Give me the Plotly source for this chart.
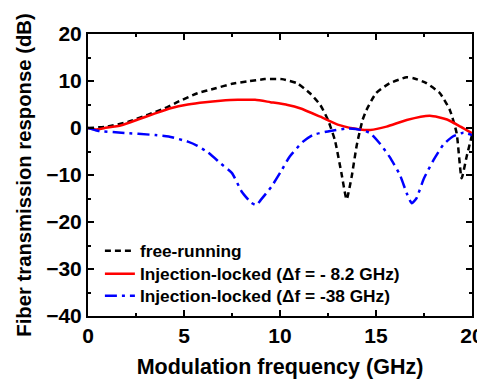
import plotly.graph_objects as go

freq_free = [0, 1, 2.08, 3.1, 4.0, 4.7, 5.7, 6.6, 7.5, 8.3, 9.2, 10.1, 10.9, 11.56, 12.1, 12.5, 12.86, 13.2, 13.47, 13.73, 14.0, 14.3, 14.5, 15.0, 15.7, 16.6, 16.95, 17.6, 18.33, 18.85, 19.2, 19.46, 19.72, 20]
resp_free = [0, 0.3, 1.3, 2.8, 4.2, 5.6, 7.4, 8.4, 9.4, 9.9, 10.4, 10.4, 9.5, 7.4, 4.9, 1.7, -2.6, -9.6, -15.2, -10.4, -3.6, 1.7, 3.8, 7.4, 9.5, 10.8, 10.6, 9.6, 7.4, 3.8, -1.1, -10.7, -6.1, -1.5]

freq_82 = [0, 0.4, 0.87, 1.74, 2.6, 3.5, 4.3, 5.2, 6.1, 6.9, 7.8, 8.7, 9.5, 10.4, 11.04, 12.1, 13.1, 14.17, 14.7, 15.55, 16.6, 17.8, 18.7, 19.4, 20]
resp_82 = [0, -0.3, 0, 0.6, 1.8, 3.1, 4.2, 5.0, 5.5, 5.8, 6.0, 6.0, 5.5, 4.9, 4.2, 2.4, 0.6, -0.3, -0.4, 0.3, 1.7, 2.6, 1.8, 0.3, -1.1]

freq_38 = [0, 0.5, 1.74, 3.5, 4.2, 5.2, 5.7, 6.25, 6.9, 7.5, 8.0, 8.5, 8.77, 9.0, 9.55, 10.1, 10.5, 11.2, 11.7, 12.4, 13.5, 14.2, 14.7, 15.2, 15.7, 16.25, 16.6, 16.86, 17.1, 17.5, 18.0, 18.5, 19.0, 19.55, 20]
resp_38 = [0, -0.6, -1.0, -1.5, -1.8, -2.9, -3.8, -5.2, -7.5, -9.6, -13.5, -15.9, -16.4, -15.3, -12.5, -8.9, -6.1, -2.9, -1.5, -0.8, -0.1, -0.4, -1.1, -3.3, -6.1, -10.0, -13.9, -16.0, -15.0, -10.7, -6.8, -3.6, -1.8, -1.0, -1.5]

names = ["free-running", "Injection-locked (Δf = - 8.2 GHz)", "Injection-locked (Δf = -38 GHz)"]

FONT = "Liberation Sans, Arial, sans-serif"

fig = go.Figure()
fig.add_trace(go.Scatter(x=freq_free, y=resp_free, mode="lines", name=names[0], legend="legend",
                         line=dict(color="black", width=2.5, dash="6px,4px", shape="spline", smoothing=0.5)))
fig.add_trace(go.Scatter(x=freq_82, y=resp_82, mode="lines", name=names[1], legend="legend2",
                         line=dict(color="#ff0000", width=2.5, shape="spline", smoothing=0.6)))
fig.add_trace(go.Scatter(x=freq_38, y=resp_38, mode="lines", name=names[2], legend="legend3",
                         line=dict(color="#0000ff", width=2.5, dash="12px,5px,3px,5px", shape="spline", smoothing=0.5)))

axis_common = dict(showline=True, linecolor="black", linewidth=2, mirror="ticks",
                   ticks="inside", ticklen=6, tickwidth=1.5, tickcolor="black",
                   showgrid=False, zeroline=False, automargin=False,
                   tickfont=dict(family=FONT, size=21, color="black", weight="bold"))

fig.update_xaxes(range=[0, 20], dtick=5, tick0=0,
                 minor=dict(dtick=2.5, ticks="inside", ticklen=3, tickwidth=1.5, tickcolor="black"),
                 title=dict(text="Modulation frequency (GHz)", standoff=13,
                            font=dict(family=FONT, size=21.5, color="black", weight="bold")),
                 **axis_common)
fig.update_yaxes(range=[-40, 20], dtick=10, tick0=0,
                 minor=dict(dtick=5, ticks="inside", ticklen=3, tickwidth=1.5, tickcolor="black"),
                 title=dict(text="Fiber transmission response (dB)", standoff=9,
                            font=dict(family=FONT, size=20.3, color="black", weight="bold")),
                 **axis_common)

legend_font = dict(family=FONT, size=17.3, color="black", weight="bold")
legend_common = dict(x=0.031, xanchor="left", yanchor="middle",
                     bgcolor="rgba(0,0,0,0)", borderwidth=0, font=legend_font)

# the page body adds an 8px margin, so the figure is 8px smaller and margins are shifted
fig.update_layout(
    width=477, height=373,
    margin=dict(l=80, r=13, t=26, b=65),
    plot_bgcolor="white", paper_bgcolor="white",
    showlegend=True,
    legend=dict(y=0.2305, **legend_common),
    legend2=dict(y=0.149, **legend_common),
    legend3=dict(y=0.071, **legend_common),
)

fig.write_html("out.html")
